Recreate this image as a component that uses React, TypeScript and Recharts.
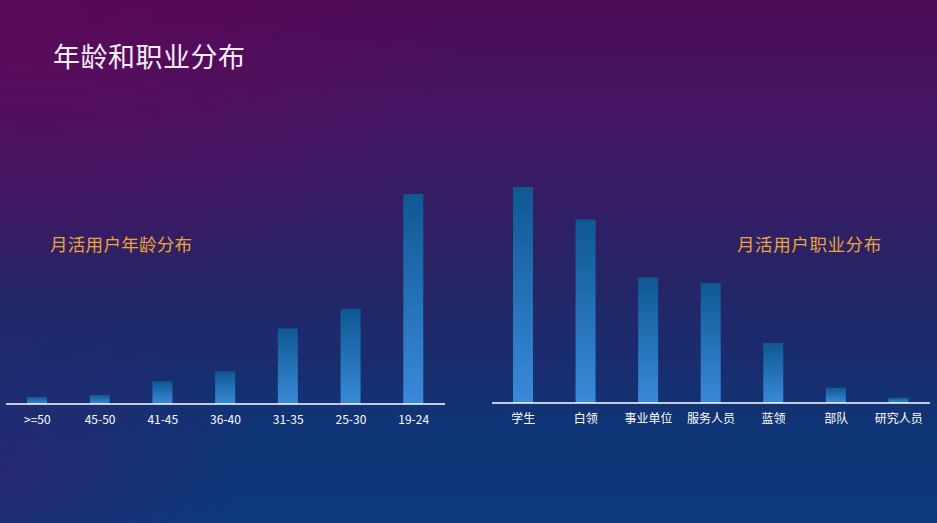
import { BarChart, Bar, XAxis, YAxis } from "recharts"

const ageGroups = [">=50", "45-50", "41-45", "36-40", "31-35", "25-30", "19-24"]
const ageShare = [3.2, 4.1, 10.3, 14.8, 34.3, 43.2, 95.5]

const jobs = ["学生", "白领", "事业单位", "服务人员", "蓝领", "部队", "研究人员"]
const jobShare = [98.2, 83.4, 57.0, 54.6, 27.3, 6.9, 2.4]

const ageData = ageGroups.map((name, i) => ({ name, value: ageShare[i] }))
const jobData = jobs.map((name, i) => ({ name, value: jobShare[i] }))

const font = "'Noto Sans CJK SC', 'Microsoft YaHei', sans-serif"

function MiniBars({ data, id, left, width, margin }: any) {
  return (
    <div style={{ position: "absolute", left, top: 0 }}>
      <BarChart width={width} height={523} data={data} margin={margin} barSize={20}>
        <defs>
          <linearGradient id={id} x1="0" y1="0" x2="0" y2="1">
            <stop offset="0%" stopColor="#0f5893" />
            <stop offset="100%" stopColor="#3a8ad8" />
          </linearGradient>
        </defs>
        <XAxis
          dataKey="name"
          height={30}
          tickLine={false}
          axisLine={{ stroke: "#ffffff", strokeWidth: 1.5 }}
          tick={{ fill: "#ffffff", fontSize: 12, fontFamily: font, dy: 3 }}
          interval={0}
        />
        <YAxis hide domain={[0, 100]} />
        <Bar dataKey="value" fill={`url(#${id})`} isAnimationActive={false} />
      </BarChart>
    </div>
  )
}

export default function App() {
  return (
    <div
      style={{
        position: "absolute",
        left: 0,
        top: 0,
        width: 937,
        height: 523,
        overflow: "hidden",
        fontFamily: font,
        background:
          "radial-gradient(ellipse 420px 260px at 40px 40px, rgba(100,6,90,0.6), rgba(100,6,90,0) 100%), radial-gradient(ellipse 260px 160px at 0px 470px, rgba(60,30,110,0.55), rgba(60,30,110,0) 100%), linear-gradient(180deg, #4c0c58 0%, #461460 18%, #351d64 38%, #272466 52%, #1a2c6e 68%, #0f3576 82%, #0a3a7c 100%)",
      }}
    >
      <div style={{ position: "absolute", left: 53, top: 36, fontSize: 27, color: "#f4eef6", letterSpacing: 0.5 }}>
        年龄和职业分布
      </div>
      <div style={{ position: "absolute", left: 50, top: 231, fontSize: 17.5, color: "#e9a53a", letterSpacing: 0.3 }}>
        月活用户年龄分布
      </div>
      <div style={{ position: "absolute", left: 737, top: 231, fontSize: 17.5, color: "#e9a53a", letterSpacing: 0.6 }}>
        月活用户职业分布
      </div>
      <MiniBars
        data={ageData}
        id="ageGrad"
        left={0}
        width={460}
        margin={{ top: 184, right: 15, left: 6, bottom: 89 }}
      />
      <MiniBars
        data={jobData}
        id="jobGrad"
        left={480}
        width={457}
        margin={{ top: 183, right: 7, left: 12, bottom: 90 }}
      />
    </div>
  )
}
